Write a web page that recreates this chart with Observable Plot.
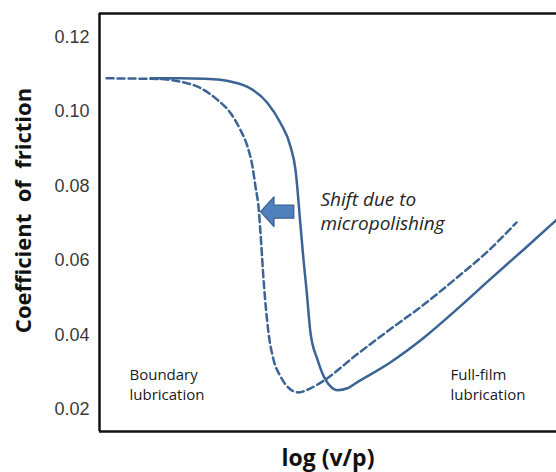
<!DOCTYPE html>
<html>
<head>
<meta charset="utf-8">
<script src="https://cdn.jsdelivr.net/npm/d3@7"></script>
<script src="https://cdn.jsdelivr.net/npm/@observablehq/plot@0.6"></script>
<style>
  html, body { margin: 0; padding: 0; background: #fff; }
  #chart { width: 556px; height: 472px; }
</style>
</head>
<body>
<div id="chart"></div>
<script>
// log(v/p) in arbitrary units (the original has no x ticks)
const solidX = [51, 81, 105, 121, 135, 148, 168, 181, 191, 196, 198.3, 200.5, 204, 207, 211, 218, 226, 238, 248, 257, 290, 324, 357, 390, 424, 457];
const solidY = [0.1089, 0.1089, 0.1088, 0.1085, 0.1078, 0.1066, 0.1023, 0.0969, 0.0906, 0.0843, 0.0781, 0.0709, 0.0602, 0.0522, 0.0406, 0.0334, 0.0280, 0.0252, 0.0257, 0.0272, 0.0325, 0.0392, 0.0468, 0.0548, 0.0629, 0.0709];

const dashX = [7, 61, 81, 101, 118, 131, 141, 148, 153, 156, 159.3, 161, 164.3, 169, 174, 181, 191, 199, 211, 224, 257, 290, 324, 357, 390, 417];
const dashY = [0.1089, 0.1087, 0.1080, 0.1063, 0.1031, 0.0996, 0.0950, 0.0906, 0.0852, 0.0798, 0.0736, 0.0674, 0.0540, 0.0406, 0.0334, 0.0289, 0.0254, 0.0246, 0.0257, 0.0277, 0.0347, 0.0414, 0.0481, 0.0553, 0.0629, 0.0702];

// block arrow: "Shift due to micropolishing"
const arrowX = [161, 174.5, 174.5, 194.3, 194.3, 174.5, 174.5, 161];
const arrowY = [0.0731, 0.0771, 0.0749, 0.0749, 0.0714, 0.0714, 0.0691, 0.0731];

const yTicks = [0.02, 0.04, 0.06, 0.08, 0.10, 0.12];
const xDomain = [0, 457];
const yDomain = [0.0141, 0.1263];

const noteText = ["Shift due to", "micropolishing", "Boundary", "lubrication", "Full-film", "lubrication"];
const noteX = [221, 221, 30, 30, 351, 351];
const noteY = [0.0745, 0.0682, 0.0280, 0.0225, 0.0280, 0.0225];
const noteItalic = [true, true, false, false, false, false];

const solid = solidX.map((x, i) => ({x, y: solidY[i]}));
const dashed = dashX.map((x, i) => ({x, y: dashY[i]}));
const arrow = arrowX.map((x, i) => ({x, y: arrowY[i]}));
const notes = noteText.map((text, i) => ({text, x: noteX[i], y: noteY[i], italic: noteItalic[i]}));

const lineColor = "#3b6494";

const chart = Plot.plot({
  width: 556,
  height: 472,
  marginLeft: 99,
  marginRight: 0,
  marginTop: 13,
  marginBottom: 41,
  style: {fontFamily: "'Liberation Sans', Arial, sans-serif", fontSize: "18px", background: "#fff"},
  x: {domain: xDomain, axis: null},
  y: {domain: yDomain, axis: null},
  marks: [
    Plot.axisY({ticks: yTicks, tickSize: 0, tickPadding: 10, tickFormat: d3.format(".2f"), label: null, fontSize: 18, fill: "#3a3a3a"}),
    Plot.line(solid, {x: "x", y: "y", curve: "monotone-x", stroke: lineColor, strokeWidth: 2.5}),
    Plot.line(dashed, {x: "x", y: "y", curve: "monotone-x", stroke: lineColor, strokeWidth: 2.5, strokeDasharray: "7,4"}),
    Plot.line(arrow, {x: "x", y: "y", fill: "#4f81bd", stroke: "#385d8a", strokeWidth: 1.2, curve: "linear"}),
    Plot.text(notes.filter(d => d.italic), {x: "x", y: "y", text: "text", textAnchor: "start", lineAnchor: "bottom", fontFamily: "'Open Sans', sans-serif", fontStyle: "italic", fontSize: 19, fill: "#262626"}),
    Plot.text(notes.filter(d => !d.italic), {x: "x", y: "y", text: "text", textAnchor: "start", lineAnchor: "bottom", fontFamily: "'Open Sans', sans-serif", fontSize: 15, fill: "#1a1a1a"}),
    Plot.ruleX([xDomain[0]], {y1: yDomain[0], y2: yDomain[1], stroke: "#111", strokeWidth: 2.5}),
    Plot.ruleY([yDomain[0], yDomain[1]], {x1: xDomain[0], x2: xDomain[1], stroke: "#111", strokeWidth: 2.5}),
    Plot.text(["log (v/p)"], {frameAnchor: "bottom", dy: 34, lineAnchor: "bottom", textAnchor: "middle", fontFamily: "'Open Sans', sans-serif", fontWeight: "bold", fontSize: 23, fill: "#111"}),
    Plot.text(["Coefficient  of  friction"], {frameAnchor: "left", dx: -76, dy: -12, rotate: -90, textAnchor: "middle", fontFamily: "'Open Sans', sans-serif", fontWeight: "bold", fontSize: 22, fill: "#111"})
  ]
});
document.getElementById("chart").appendChild(chart);
</script>
</body>
</html>
